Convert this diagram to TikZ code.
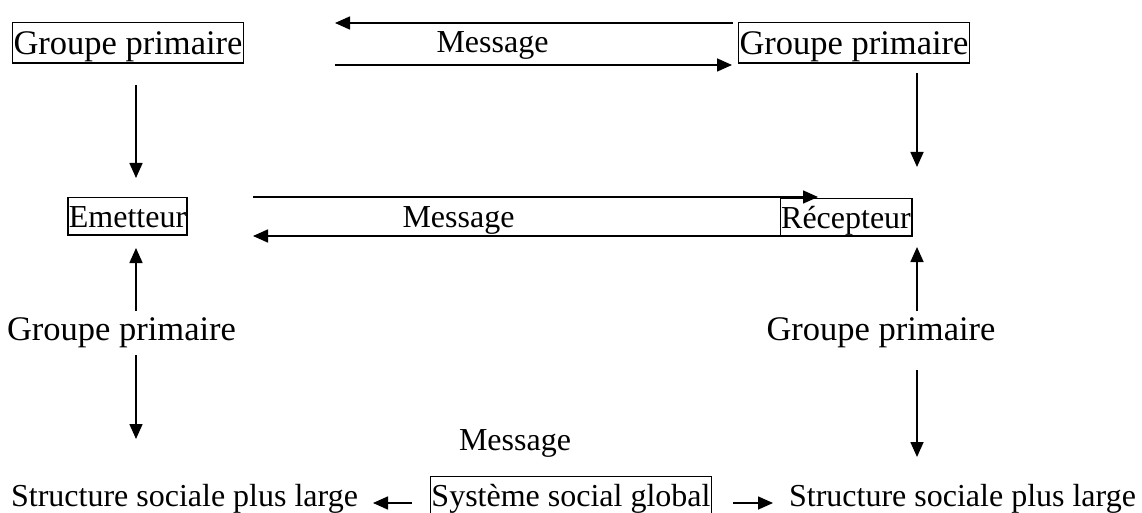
\documentclass[tikz,border=0pt]{standalone}
\usepackage{fontspec}
\setmainfont{Liberation Serif}
\usetikzlibrary{arrows.meta}
\begin{document}
\begin{tikzpicture}[x=1pt,y=-1pt,
  txt/.style={font=\fontsize{32}{38}\selectfont, inner sep=0pt, anchor=base},
  big/.style={font=\fontsize{34.5}{40}\selectfont},
  box/.style={draw, line width=1.3pt, inner xsep=1pt, inner ysep=1pt,
              text height=28.5pt, text depth=6.9pt},
  bigbox/.style={box, text height=30.7pt, text depth=7.5pt},
  arr/.style={line width=1.6pt, -{Triangle[length=15pt,width=13pt]}}]
\useasboundingbox (0,0) rectangle (1142,513);

% nodes
\node[txt,big,bigbox] (gp1) at (128,54.5) {Groupe primaire};
\node[txt,big,bigbox] (gp2) at (854,54.5) {Groupe primaire};
\node[txt] (msg1) at (492.5,53) {Message};
\node[txt,box] (em) at (127.5,227) {Emetteur};
\node[txt,box] (rec) at (846,228) {Récepteur};
\node[txt] (msg2) at (458.5,227) {Message};
\node[txt,big] (gpl) at (121.5,340) {Groupe primaire};
\node[txt,big] (gpr) at (881,340) {Groupe primaire};
\node[txt] (msg3) at (515,450) {Message};
\node[txt] (ssl1) at (184.5,506) {Structure sociale plus large};
\node[txt,box] (ssg) at (571,506) {Système social global};
\node[txt] (ssl2) at (962.5,506) {Structure sociale plus large};

% arrow end points
\coordinate (a1s) at (733,23);  \coordinate (a1e) at (335,23);
\coordinate (a2s) at (335,65);  \coordinate (a2e) at (732,65);
\coordinate (a3s) at (136,85);  \coordinate (a3e) at (136,178);
\coordinate (a4s) at (917,73);  \coordinate (a4e) at (917,167);
\coordinate (a5s) at (253,197); \coordinate (a5e) at (818,197);
\coordinate (a6s) at (830,236); \coordinate (a6e) at (253,236);
\coordinate (a7s) at (136,311); \coordinate (a7e) at (136,248);
\coordinate (a8s) at (917,311); \coordinate (a8e) at (917,247);
\coordinate (a9s) at (136,355); \coordinate (a9e) at (136,439);
\coordinate (a10s) at (917,370); \coordinate (a10e) at (917,457);
\coordinate (a11s) at (412,503); \coordinate (a11e) at (373,503);
\coordinate (a12s) at (733,503); \coordinate (a12e) at (773,503);

% connectors
\foreach \i in {1,...,12}
  \draw[arr] (a\i s) -- (a\i e);
\end{tikzpicture}
\end{document}
